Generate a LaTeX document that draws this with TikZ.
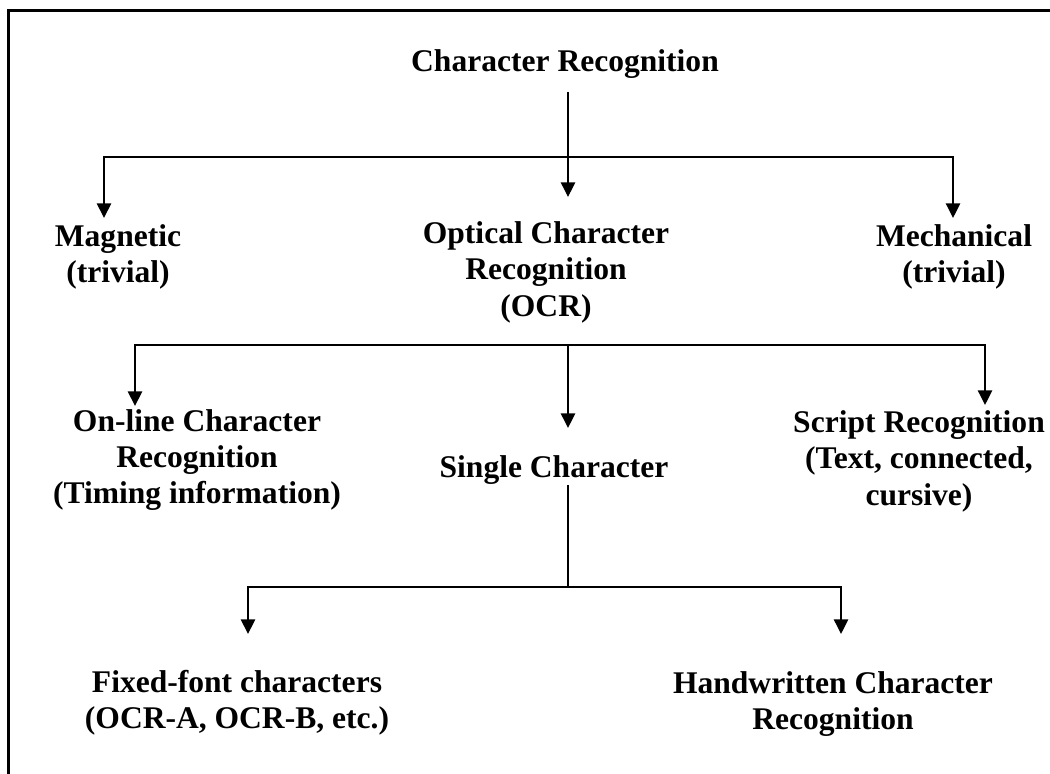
\documentclass[tikz,border=0pt]{standalone}
\usepackage{fontspec}
\setmainfont{Liberation Serif}
\usetikzlibrary{arrows.meta}

\begin{document}
\begin{tikzpicture}[x=0.45pt,y=-0.45pt,
	lbl/.style={align=center, inner sep=0pt, font=\fontsize{14.2}{16.4}\selectfont\bfseries},
	link/.style={line width=0.8pt},
	arr/.style={link, -{Triangle[length=6.6pt,width=6.4pt]}}]
	\useasboundingbox (0,0) rectangle (1050,773);

	%frame (runs off the right and bottom edges)
	\draw[line width=1.1pt] (8.5,790) -- (8.5,10.5) -- (1070,10.5);

	%labels
	\node[lbl] (cr) at (565,64) {Character Recognition};
	%
	\node[lbl] (mag) at (118,257) {Magnetic\\(trivial)};
	\node[lbl] (ocr) at (546,272) {Optical Character\\Recognition\\(OCR)};
	\node[lbl] (mech) at (954,257) {Mechanical\\(trivial)};
	%
	\node[lbl] (online) at (197,460) {On-line Character\\Recognition\\(Timing information)};
	\node[lbl] (single) at (554,470) {Single Character};
	\node[lbl] (script) at (919,461) {Script Recognition\\(Text, connected,\\cursive)};
	%
	\node[lbl] (fixed) at (237,703) {Fixed-font characters\\(OCR-A, OCR-B, etc.)};
	\node[lbl] (hand) at (833,704) {Handwritten Character\\Recognition};

	%junctions and arrow tips
	\coordinate (j1) at (568,157);
	\coordinate (t1l) at (104,218);
	\coordinate (t1m) at (568,197);
	\coordinate (t1r) at (953,218);
	%
	\coordinate (j2) at (568,345);
	\coordinate (t2l) at (135,406);
	\coordinate (t2m) at (568,428);
	\coordinate (t2r) at (985,405);
	%
	\coordinate (j3) at (568,587);
	\coordinate (t3l) at (248,634);
	\coordinate (t3r) at (841,634);

	%arrows
	\draw[link, shorten <=6pt] (cr.south -| j1) -- (j1);
	\draw[arr] (j1) -- (t1m);
	\draw[arr] (j1) -| (t1l);
	\draw[arr] (j1) -| (t1r);
	%
	\draw[arr] (j2) -- (t2m);
	\draw[arr] (j2) -| (t2l);
	\draw[arr] (j2) -| (t2r);
	%
	\draw[link] (single.south -| j3) -- (j3);
	\draw[arr] (j3) -| (t3l);
	\draw[arr] (j3) -| (t3r);
\end{tikzpicture}
\end{document}
